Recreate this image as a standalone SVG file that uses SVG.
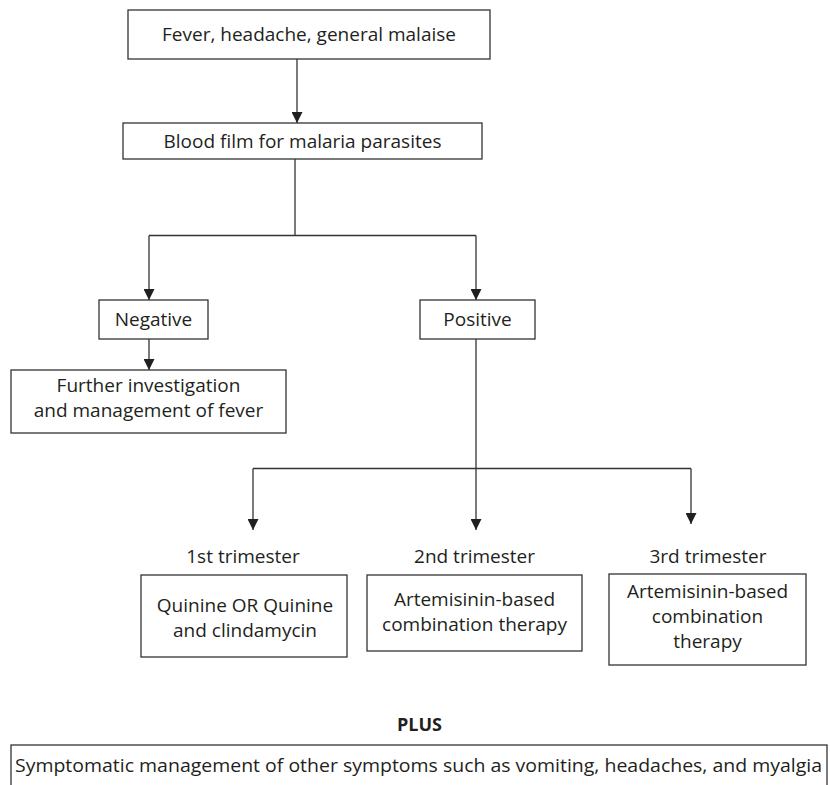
<svg xmlns="http://www.w3.org/2000/svg" width="830" height="785" viewBox="0 0 830 785">
<style>
  .box { fill: #ffffff; stroke: #333333; stroke-width: 1.3; }
  .t { font-family: "Open Sans", "Noto Sans", "Liberation Sans", sans-serif; font-size: 19px; fill: #231f20; text-anchor: middle; }
  .b { font-weight: bold; font-size: 18px; }
  .line { fill: none; stroke: #333333; stroke-width: 1.3; }
</style>
<defs>
  <marker id="ah" viewBox="0 0 10 10" refX="10" refY="5" markerWidth="11" markerHeight="11" markerUnits="userSpaceOnUse" orient="auto">
    <path d="M0,0 L10,5 L0,10 Z" fill="#231f20"/>
  </marker>
</defs>
<rect width="830" height="785" fill="#ffffff"/>
<g id="connectors">
  <line class="line" x1="297" y1="59" x2="297" y2="123" marker-end="url(#ah)"/>
  <polyline class="line" points="295,159 295,235.5"/>
  <polyline class="line" points="149,235.5 476,235.5"/>
  <line class="line" x1="149" y1="235.5" x2="149" y2="300" marker-end="url(#ah)"/>
  <line class="line" x1="476" y1="235.5" x2="476" y2="300" marker-end="url(#ah)"/>
  <line class="line" x1="149" y1="339" x2="149" y2="370" marker-end="url(#ah)"/>
  <polyline class="line" points="476,339 476,468.5"/>
  <polyline class="line" points="253,468.5 691,468.5"/>
  <line class="line" x1="253" y1="468.5" x2="253" y2="530" marker-end="url(#ah)"/>
  <line class="line" x1="476" y1="468.5" x2="476" y2="530" marker-end="url(#ah)"/>
  <line class="line" x1="691" y1="468.5" x2="691" y2="524" marker-end="url(#ah)"/>
</g>
<g id="n-fever">
  <rect class="box" x="128" y="10" width="362" height="49"/>
  <text class="t" x="309" y="41">Fever, headache, general malaise</text>
</g>
<g id="n-bloodfilm">
  <rect class="box" x="123" y="123" width="359" height="36"/>
  <text class="t" x="302.5" y="148">Blood film for malaria parasites</text>
</g>
<g id="n-negative">
  <rect class="box" x="99" y="300" width="109" height="39"/>
  <text class="t" x="153.5" y="326">Negative</text>
</g>
<g id="n-positive">
  <rect class="box" x="420" y="300" width="115" height="39"/>
  <text class="t" x="477.5" y="326">Positive</text>
</g>
<g id="n-further">
  <rect class="box" x="11" y="370" width="275" height="63"/>
  <text class="t" x="148.5" y="392">Further investigation</text>
  <text class="t" x="148.5" y="417">and management of fever</text>
</g>
<g id="n-tri1">
  <text class="t" x="243" y="563">1st trimester</text>
  <rect class="box" x="141" y="575" width="206" height="82"/>
  <text class="t" x="245" y="612">Quinine OR Quinine</text>
  <text class="t" x="245" y="637">and clindamycin</text>
</g>
<g id="n-tri2">
  <text class="t" x="474.5" y="563">2nd trimester</text>
  <rect class="box" x="367" y="575" width="215" height="76"/>
  <text class="t" x="474.5" y="606">Artemisinin-based</text>
  <text class="t" x="474.5" y="631">combination therapy</text>
</g>
<g id="n-tri3">
  <text class="t" x="708" y="563">3rd trimester</text>
  <rect class="box" x="609" y="574" width="197" height="91"/>
  <text class="t" x="707.5" y="598">Artemisinin-based</text>
  <text class="t" x="707.5" y="623">combination</text>
  <text class="t" x="707.5" y="648">therapy</text>
</g>
<g id="n-plus">
  <text class="t b" x="419.5" y="731">PLUS</text>
</g>
<g id="n-symptomatic">
  <rect class="box" x="11" y="745" width="816" height="60"/>
  <text class="t" x="418.5" y="772" textLength="807" lengthAdjust="spacingAndGlyphs">Symptomatic management of other symptoms such as vomiting, headaches, and myalgia</text>
</g>
</svg>
